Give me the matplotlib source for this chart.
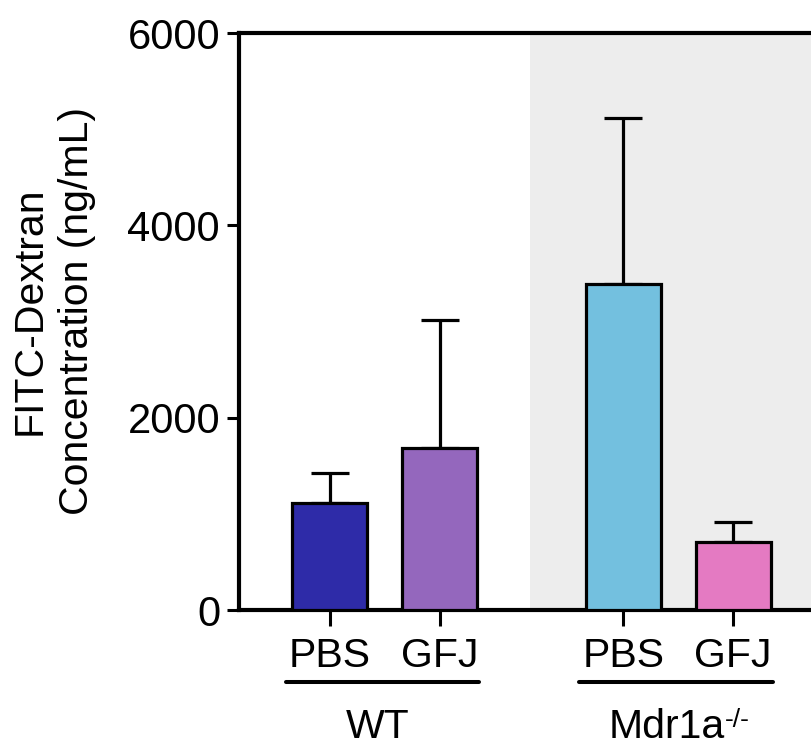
import matplotlib
matplotlib.use("Agg")
import matplotlib.pyplot as plt
import matplotlib.transforms as mtransforms

plt.rcParams['font.family'] = ['Liberation Sans', 'DejaVu Sans']

# data
groups = ["WT", "Mdr1a"]
group_sup = ["", "-/-"]
conditions = ["PBS", "GFJ", "PBS", "GFJ"]
means = [1113, 1685, 3390, 710]
sd_upper = [312, 1330, 1726, 208]
colors = ["#2e2ba8", "#9467bd", "#73c0df", "#e47ac2"]
positions = [0, 1, 2.67, 3.67]

fig = plt.figure(figsize=(8.12, 7.45), dpi=100)
ax = fig.add_axes([0.2943, 0.1812, 0.7057, 0.7745])

ax.axvspan(1.823, 4.5, color="#ededed", zorder=0, lw=0)

ax.bar(positions, means, width=0.68, color=colors, edgecolor="black",
       linewidth=2.3, zorder=3)
ax.errorbar(positions, means, yerr=[[0]*4, sd_upper], fmt="none",
            ecolor="black", elinewidth=2.3, capsize=13.7, capthick=2.3, zorder=2)

ax.set_xlim(-0.823, 4.386)
ax.set_ylim(0, 6000)
ax.set_yticks([0, 2000, 4000, 6000])
ax.set_xticks(positions)
ax.set_xticklabels(conditions)

for s in ["left", "bottom", "top"]:
    ax.spines[s].set_linewidth(3.0)
ax.spines["right"].set_visible(False)
ax.tick_params(axis="y", length=8.6, width=2.2, labelsize=30, pad=5)
ax.tick_params(axis="x", length=11.5, width=2.2, labelsize=29.5, pad=8)

fig.text(0.0653, 0.5826, "FITC-Dextran\nConcentration (ng/mL)", fontsize=29.5,
         rotation=90, ha="center", va="center", multialignment="center",
         linespacing=1.3)

trans = mtransforms.blended_transform_factory(ax.transData, ax.transAxes)
centers = [(positions[0] + positions[1]) / 2, (positions[2] + positions[3]) / 2]
for c, g, sup in zip(centers, groups, group_sup):
    ax.plot([c - 0.9, c + 0.86], [-0.125, -0.125], color="black", lw=2.9,
            solid_capstyle="round", transform=trans, clip_on=False)
    if sup:
        t = ax.text(c - 0.1, -0.2218, g, transform=trans, ha="center",
                    va="baseline", fontsize=29.5)
        ax.annotate(sup, xy=(1.0, 1.0), xycoords=t, ha="left", va="top",
                    fontsize=19)
    else:
        ax.text(c - 0.06, -0.2218, g, transform=trans, ha="center",
                va="baseline", fontsize=29.5)

fig.savefig("out.png", dpi=100)
